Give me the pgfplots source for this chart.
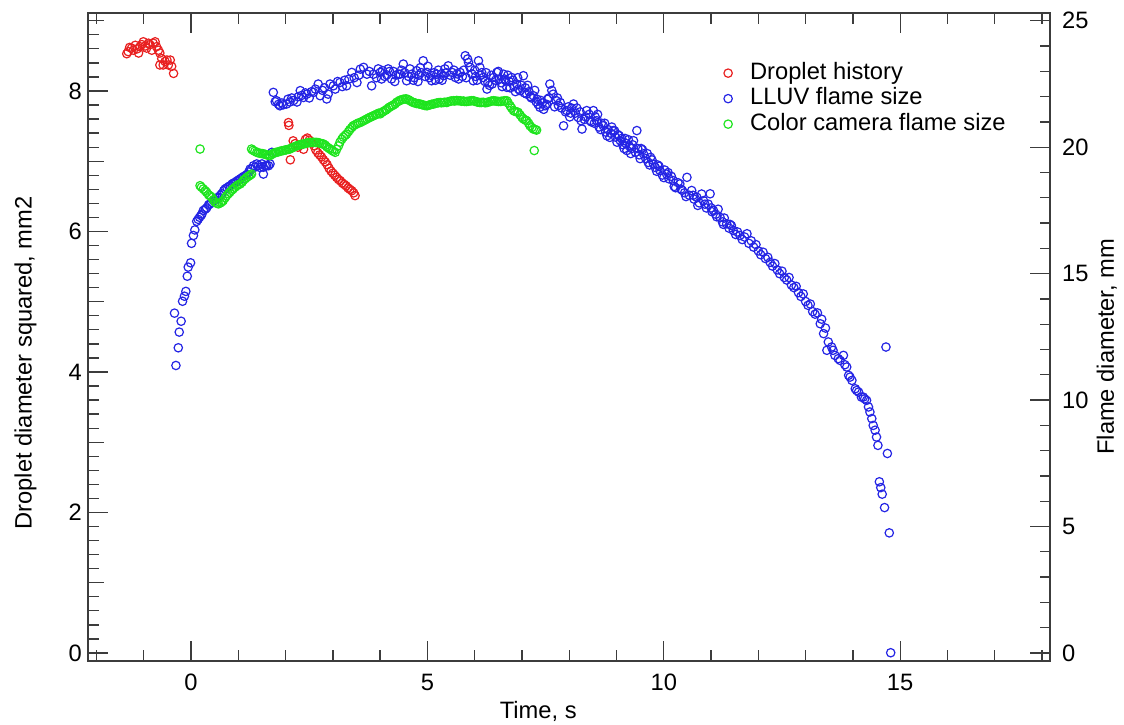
\documentclass[border=0pt]{standalone}
\usepackage{fontspec}
\setmainfont{Liberation Sans}
\usepackage{pgfplots}
\pgfplotsset{compat=1.18}
\definecolor{cred}{RGB}{232,32,32}
\definecolor{cblue}{RGB}{36,36,228}
\definecolor{cgreen}{RGB}{30,228,30}
\definecolor{axgray}{RGB}{60,60,60}
\pgfplotsset{
  dots/.style={only marks, mark=o, mark size=4.2bp, mark options={line width=1.2bp, solid}},
  legdots/.style={only marks, mark=o, mark size=4.2bp, mark options={line width=1.2bp, solid},
    legend image code/.code={\path[draw=none,fill=none] (-5bp,0bp) -- (21bp,0bp); \path[draw=none] plot[mark=o] coordinates {(0bp,0bp)};}},
  common/.style={
    at={(88bp,64bp)}, anchor=south west, scale only axis, width=962bp, height=648bp,
    xmin=-2.18, xmax=18.17,
    tick align=inside,
    axis line style={line width=1.3bp, axgray},
    major tick style={line width=1.3bp, axgray},
    minor tick style={line width=1.3bp, axgray},
    /pgf/number format/assume math mode=true,
  }
}
\begin{document}
\fontsize{23.7bp}{28bp}\selectfont
\begin{tikzpicture}
\path[use as bounding box] (0,0) rectangle (1124bp,725bp);
\begin{axis}[common,
  ymin=-0.114, ymax=9.11,
  xtick={0,5,10,15}, minor xtick={-2,-1,1,2,3,4,6,7,8,9,11,12,13,14,16,17,18},
  ytick={0,2,4,6,8},
  minor ytick={0.2,0.4,0.6,0.8,1.2,1.4,1.6,1.8,2.2,2.4,2.6,2.8,3.2,3.4,3.6,3.8,4.2,4.4,4.6,4.8,5.2,5.4,5.6,5.8,6.2,6.4,6.6,6.8,7.2,7.4,7.6,7.8,8.2,8.4,8.6,8.8,9.0},
  extra y ticks={1,3,5,7,9}, extra y tick labels={},
  extra y tick style={major tick length=16bp},
  xtick pos=both, xticklabel pos=lower, ytick pos=left, yticklabel pos=left,
  major tick length=20bp, minor tick length=11bp,
  x tick label style={anchor=base, yshift=-30bp},
  y tick label style={anchor=east, inner sep=0pt, xshift=-6bp},
  xlabel={Time, s},
  xlabel style={at={(axis description cs:0.468,-0.088)}, anchor=base},
  ylabel={Droplet diameter squared, mm2},
  ylabel style={at={(axis description cs:-0.065,0.46)}, anchor=center},
]
\addplot[dots, cred] table[row sep=\\] {
x y\\
-1.36 8.53\\ -1.33 8.56\\ -1.30 8.62\\ -1.26 8.61\\ -1.22 8.58\\ -1.18 8.65\\ -1.14 8.60\\ -1.11 8.54\\
-1.08 8.63\\ -1.04 8.66\\ -1.01 8.70\\ -0.97 8.64\\ -0.94 8.61\\ -0.90 8.68\\ -0.87 8.66\\ -0.83 8.58\\
-0.80 8.68\\ -0.76 8.70\\ -0.73 8.63\\ -0.69 8.58\\ -0.66 8.54\\ -0.62 8.46\\ -0.66 8.37\\ -0.59 8.37\\
-0.55 8.42\\ -0.51 8.44\\ -0.48 8.37\\ -0.44 8.44\\ -0.41 8.35\\ -0.37 8.25\\
2.06 7.55\\ 2.07 7.51\\ 2.10 7.02\\ 2.16 7.29\\ 2.20 7.25\\ 2.26 7.20\\ 2.32 7.23\\ 2.38 7.17\\
2.42 7.31\\ 2.46 7.33\\ 2.50 7.30\\ 2.55 7.26\\ 2.60 7.22\\ 2.64 7.16\\ 2.68 7.12\\ 2.72 7.09\\
2.76 7.06\\ 2.80 7.02\\ 2.84 6.99\\ 2.88 6.95\\ 2.92 6.90\\ 2.96 6.86\\ 3.00 6.83\\ 3.04 6.80\\
3.08 6.77\\ 3.12 6.74\\ 3.16 6.72\\ 3.20 6.69\\ 3.24 6.67\\ 3.28 6.65\\ 3.32 6.62\\ 3.36 6.60\\
3.40 6.58\\ 3.44 6.55\\ 3.47 6.51\\
};
\end{axis}
\begin{axis}[common,
  ymin=-0.317, ymax=25.31,
  axis x line=none, axis y line*=right,
  ytick={0,5,10,15,20,25}, minor y tick num=4,
  major tick length=20bp, minor tick length=10bp,
  y tick label style={anchor=west, inner sep=0pt, xshift=12bp},
  ylabel={Flame diameter, mm},
  ylabel style={at={(axis description cs:1.059,0.485)}, anchor=center},
  legend style={draw=none, fill=none, at={(axis description cs:0.660,0.926)}, anchor=north west,
    inner sep=0pt, row sep=1.5bp, nodes={inner sep=1bp, text height=17bp, text depth=5bp}},
  legend cell align=left,
]
\addlegendimage{legdots, cred}\addlegendentry{Droplet history}
\addlegendimage{legdots, cblue}\addlegendentry{LLUV flame size}
\addlegendimage{legdots, cgreen}\addlegendentry{Color camera flame size}
\addplot[dots, cblue, forget plot] table[row sep=\\] {
x y\\
-0.35 13.44\\ -0.32 11.37\\ -0.27 12.07\\ -0.25 12.69\\ -0.21 13.12\\ -0.18 13.91\\ -0.14 14.11\\ -0.11 14.30\\
-0.08 14.90\\ -0.06 15.26\\ -0.01 15.43\\ 0.01 16.20\\ 0.05 16.51\\ 0.08 16.73\\ 0.12 17.07\\ 0.15 17.15\\
0.18 17.23\\ 0.21 17.30\\ 0.23 17.36\\ 0.26 17.50\\ 0.30 17.55\\ 0.33 17.60\\ 0.37 17.72\\ 0.40 17.76\\
0.44 17.82\\ 0.47 17.89\\ 0.51 17.92\\ 0.55 18.00\\ 0.58 18.02\\ 0.62 18.10\\ 0.65 18.16\\ 0.69 18.28\\
0.72 18.35\\ 0.76 18.40\\ 0.80 18.45\\ 0.83 18.48\\ 0.87 18.55\\ 0.90 18.58\\ 0.93 18.61\\ 0.97 18.66\\
1.00 18.70\\ 1.04 18.75\\ 1.08 18.80\\ 1.11 18.84\\ 1.15 18.88\\ 1.18 18.92\\ 1.22 19.02\\ 1.25 19.14\\
1.28 19.14\\ 1.32 19.27\\ 1.36 19.22\\ 1.39 19.34\\ 1.43 19.28\\ 1.46 19.20\\ 1.50 19.34\\ 1.53 18.94\\
1.53 19.21\\ 1.57 19.27\\ 1.60 19.27\\ 1.64 19.27\\ 1.67 19.34\\ 1.71 19.80\\
1.74 22.17\\ 1.78 21.80\\ 1.81 21.84\\ 1.85 21.70\\ 1.88 21.64\\ 1.92 21.75\\ 1.95 21.68\\ 2.02 21.71\\
2.05 21.90\\ 2.09 21.79\\ 2.13 21.95\\ 2.17 21.85\\ 2.24 21.79\\ 2.27 22.00\\ 2.31 22.24\\ 2.34 22.05\\
2.38 21.97\\ 2.42 22.15\\ 2.45 22.10\\ 2.50 21.95\\ 2.55 22.20\\ 2.59 22.17\\ 2.63 22.30\\ 2.69 22.50\\
2.73 22.04\\ 2.78 22.25\\ 2.82 22.35\\ 2.87 21.91\\ 2.90 22.10\\ 2.94 22.50\\ 3.01 22.43\\ 3.05 22.30\\
3.10 22.60\\ 3.15 22.56\\ 3.20 22.40\\ 3.25 22.65\\ 3.29 22.43\\ 3.34 22.70\\ 3.40 22.96\\ 3.45 22.75\\
3.51 22.56\\ 3.55 22.85\\ 3.58 23.09\\ 3.65 23.16\\ 3.72 22.89\\ 3.77 23.00\\ 3.82 22.43\\ 3.86 22.89\\
3.92 22.75\\ 3.96 23.10\\ 4.00 22.96\\ 4.05 23.03\\ 4.10 22.80\\ 4.14 22.86\\ 4.20 23.00\\ 4.24 22.70\\
4.28 23.00\\ 4.33 22.85\\ 4.39 22.89\\ 4.42 22.89\\ 4.49 23.29\\ 4.52 22.95\\ 4.56 22.63\\ 4.60 22.80\\
4.67 22.89\\ 4.72 22.75\\ 4.77 23.03\\ 4.82 22.85\\ 4.87 22.95\\ 4.91 23.42\\ 4.95 22.80\\ 4.99 22.96\\
5.04 22.75\\ 5.09 22.63\\ 5.14 22.95\\ 5.20 22.89\\ 5.25 22.70\\ 5.29 22.90\\ 5.34 22.83\\ 5.40 22.95\\
5.44 23.22\\ 5.48 22.85\\ 5.52 22.96\\ 5.59 22.76\\ 5.63 22.90\\ 5.69 22.96\\ 5.74 22.80\\ 5.80 23.62\\
5.85 23.49\\ 5.87 23.35\\ 5.90 23.16\\ 5.97 22.63\\ 6.02 22.80\\ 6.08 23.42\\ 6.11 23.16\\ 6.15 22.95\\
6.18 22.76\\ 6.22 22.60\\ 6.26 22.30\\ 6.31 22.45\\ 6.35 22.85\\ 6.40 22.76\\ 6.47 22.96\\ 6.52 22.70\\
6.56 22.55\\ 6.61 22.89\\ 6.65 22.65\\ 6.68 22.37\\ 6.73 22.60\\ 6.78 22.76\\ 6.83 22.40\\ 6.89 22.50\\
6.93 22.30\\ 6.96 22.24\\ 7.03 22.83\\ 7.07 22.35\\ 7.10 22.10\\ 7.15 22.20\\ 7.20 21.95\\ 7.24 22.04\\
7.30 21.80\\ 7.34 21.70\\ 7.38 21.58\\ 7.43 21.75\\ 7.49 21.64\\ 7.54 21.90\\ 7.59 22.50\\ 7.63 22.25\\
7.66 22.10\\ 7.72 21.85\\ 7.77 21.65\\ 7.81 21.77\\ 7.88 20.85\\ 7.92 21.40\\ 7.95 21.45\\ 8.01 21.20\\
8.05 21.55\\ 8.09 21.71\\ 8.13 21.35\\ 8.19 21.18\\ 8.23 21.40\\ 8.27 20.72\\ 8.32 21.10\\ 8.37 21.45\\
8.42 21.30\\ 8.47 21.00\\ 8.51 21.45\\ 8.55 21.20\\ 8.58 21.05\\ 8.63 20.80\\ 8.68 20.95\\ 8.72 20.85\\
8.77 20.60\\ 8.82 20.70\\ 8.86 20.39\\ 8.90 20.80\\ 8.93 20.66\\ 8.98 20.40\\ 9.03 20.50\\ 9.08 20.26\\
9.13 20.10\\ 9.18 20.35\\ 9.22 19.87\\ 9.27 20.05\\ 9.32 19.95\\ 9.36 20.26\\ 9.40 19.80\\ 9.43 20.66\\
9.48 19.70\\ 9.52 19.95\\ 9.57 19.74\\ 9.62 19.55\\ 9.67 19.40\\ 9.72 19.60\\ 9.78 19.34\\ 9.82 19.20\\
9.87 19.30\\ 9.92 19.08\\ 9.97 18.90\\ 10.02 19.10\\ 10.06 18.94\\ 10.11 18.75\\ 10.16 18.85\\ 10.20 18.68\\
10.25 18.40\\ 10.30 18.60\\ 10.34 18.55\\ 10.39 18.30\\ 10.44 18.20\\ 10.49 18.81\\ 10.54 18.10\\ 10.59 18.29\\
10.64 17.95\\ 10.70 18.02\\ 10.75 17.80\\ 10.80 18.15\\ 10.84 17.89\\ 10.90 17.60\\ 10.94 17.75\\ 10.98 18.16\\
11.02 17.45\\ 11.05 17.50\\ 11.10 17.35\\ 11.15 17.55\\ 11.19 17.23\\ 11.24 17.05\\ 11.28 17.20\\ 11.33 16.97\\
11.38 16.80\\ 11.43 16.90\\ 11.47 16.71\\ 11.52 16.55\\ 11.56 16.65\\ 11.61 16.51\\ 11.66 16.35\\ 11.71 16.45\\
11.76 16.58\\ 11.80 16.20\\ 11.85 16.30\\ 11.90 16.05\\ 11.95 16.15\\ 12.00 15.90\\ 12.05 15.75\\ 12.10 15.85\\
12.15 15.60\\ 12.20 15.65\\ 12.25 15.45\\ 12.30 15.30\\ 12.35 15.40\\ 12.40 15.15\\ 12.45 15.00\\ 12.50 15.10\\
12.55 14.85\\ 12.60 14.75\\ 12.65 14.85\\ 12.70 14.55\\ 12.75 14.45\\ 12.80 14.50\\ 12.85 14.25\\ 12.90 14.10\\
12.95 14.20\\ 13.00 13.90\\ 13.05 13.75\\ 13.10 13.80\\ 13.15 13.50\\ 13.20 13.40\\ 13.25 13.45\\ 13.31 13.02\\
13.34 13.20\\ 13.38 12.63\\ 13.42 12.85\\ 13.45 11.97\\ 13.48 12.30\\ 13.55 12.10\\ 13.58 11.97\\ 13.62 11.77\\
13.69 11.64\\ 13.73 11.57\\ 13.80 11.77\\ 13.83 11.40\\ 13.87 11.31\\ 13.91 10.98\\ 13.94 10.91\\ 13.98 10.78\\
14.05 10.45\\ 14.08 10.38\\ 14.12 10.32\\ 14.18 10.12\\ 14.22 10.12\\ 14.25 10.05\\ 14.29 9.99\\ 14.33 9.73\\
14.36 9.53\\ 14.40 9.27\\ 14.43 9.00\\ 14.47 8.81\\ 14.50 8.54\\ 14.53 8.21\\ 14.56 6.77\\ 14.59 6.54\\
14.62 6.28\\ 14.67 5.75\\ 14.70 12.10\\ 14.73 7.89\\ 14.77 4.75\\ 14.80 0.01\\
4.03 22.70\\ 4.17 23.10\\ 4.31 22.60\\ 4.45 23.05\\ 4.63 23.10\\ 4.70 22.65\\ 4.80 22.60\\ 4.85 23.15\\
5.01 23.20\\ 5.07 22.85\\ 5.17 22.65\\ 5.23 23.05\\ 5.31 22.65\\ 5.37 23.10\\ 5.56 23.05\\ 5.66 22.70\\
5.77 23.05\\ 5.82 22.75\\ 5.94 22.90\\ 6.00 23.05\\ 6.05 22.65\\ 6.13 22.85\\ 6.24 22.95\\ 6.28 22.55\\
6.37 22.50\\ 6.44 22.65\\ 6.50 23.00\\ 6.58 22.40\\ 6.63 22.70\\ 6.70 22.85\\ 6.75 22.35\\ 6.81 22.65\\
6.86 22.20\\ 6.91 22.75\\ 6.99 22.45\\ 7.05 22.15\\ 7.12 22.45\\ 7.18 22.00\\ 7.27 22.25\\ 7.32 21.90\\
7.40 21.85\\ 7.46 21.50\\ 7.52 21.70\\ 7.57 21.95\\ 7.69 21.60\\ 7.75 21.95\\ 7.84 21.55\\ 7.98 21.60\\
8.03 21.35\\ 8.16 21.55\\ 8.25 21.05\\ 8.35 21.20\\ 8.44 21.05\\ 8.53 20.95\\ 8.60 21.30\\ 8.66 20.70\\
8.75 20.95\\ 8.80 20.45\\ 8.88 20.55\\ 8.96 20.65\\ 9.01 20.20\\ 9.06 20.45\\ 9.11 20.35\\ 9.16 19.95\\
9.20 20.15\\ 9.25 20.30\\ 9.30 19.75\\ 9.34 20.10\\ 9.45 19.95\\ 9.50 19.55\\ 9.55 19.90\\ 9.65 19.75\\
9.70 19.30\\ 9.75 19.50\\ 9.85 19.05\\ 9.90 19.25\\ 10.00 18.80\\ 10.09 19.00\\ 10.22 18.45\\ 10.36 18.35\\
10.47 18.05\\ 10.62 18.10\\ 10.72 17.70\\ 10.87 17.75\\ 11.00 17.60\\ 11.12 17.25\\ 11.26 16.95\\ 11.40 16.95\\
};
\addplot[dots, cgreen, forget plot] table[row sep=\\] {
x y\\
0.19 19.93\\
0.19 18.48\\ 0.22 18.42\\ 0.26 18.35\\ 0.30 18.28\\ 0.33 18.22\\ 0.37 18.12\\ 0.40 18.08\\ 0.44 18.02\\
0.47 17.92\\ 0.51 17.82\\ 0.55 17.78\\ 0.58 17.76\\ 0.62 17.80\\ 0.65 17.84\\ 0.68 17.89\\ 0.72 18.00\\
0.75 18.08\\ 0.79 18.16\\ 0.82 18.22\\ 0.86 18.30\\ 0.89 18.35\\ 0.93 18.42\\ 0.97 18.48\\ 1.00 18.52\\
1.04 18.55\\ 1.08 18.62\\ 1.11 18.70\\ 1.15 18.76\\ 1.18 18.81\\ 1.22 18.86\\ 1.25 18.90\\ 1.28 18.94\\
1.28 19.93\\ 1.31 19.88\\ 1.35 19.84\\ 1.39 19.80\\ 1.42 19.78\\ 1.46 19.76\\ 1.50 19.75\\ 1.53 19.74\\
1.57 19.72\\ 1.60 19.70\\ 1.64 19.68\\ 1.67 19.67\\ 1.71 19.72\\ 1.74 19.76\\ 1.78 19.79\\ 1.81 19.80\\
1.85 19.82\\ 1.88 19.84\\ 1.92 19.86\\ 1.95 19.87\\ 1.99 19.89\\ 2.02 19.90\\ 2.06 19.92\\ 2.09 19.93\\
2.13 19.97\\ 2.16 20.00\\ 2.20 20.03\\ 2.24 20.06\\ 2.27 20.08\\ 2.31 20.10\\ 2.34 20.12\\ 2.38 20.13\\
2.42 20.15\\ 2.45 20.17\\ 2.49 20.18\\ 2.52 20.19\\ 2.56 20.19\\ 2.59 20.20\\ 2.63 20.19\\ 2.66 20.19\\
2.70 20.18\\ 2.73 20.16\\ 2.77 20.14\\ 2.80 20.13\\ 2.84 20.08\\ 2.87 20.02\\ 2.91 19.97\\ 2.94 19.93\\
2.98 19.88\\ 3.01 19.84\\ 3.05 19.80\\ 3.08 19.92\\ 3.12 20.06\\ 3.15 20.20\\ 3.19 20.32\\ 3.22 20.40\\
3.26 20.47\\ 3.29 20.52\\ 3.33 20.62\\ 3.36 20.70\\ 3.40 20.78\\ 3.43 20.85\\ 3.47 20.89\\ 3.51 20.93\\
3.54 20.96\\ 3.58 20.98\\ 3.62 21.02\\ 3.65 21.05\\ 3.69 21.09\\ 3.72 21.12\\ 3.76 21.16\\ 3.79 21.19\\
3.83 21.22\\ 3.86 21.25\\ 3.90 21.28\\ 3.93 21.31\\ 3.97 21.35\\ 4.00 21.32\\ 4.04 21.38\\ 4.07 21.42\\
4.11 21.46\\ 4.14 21.50\\ 4.18 21.56\\ 4.21 21.60\\ 4.25 21.64\\ 4.28 21.67\\ 4.32 21.72\\ 4.35 21.78\\
4.39 21.82\\ 4.42 21.86\\ 4.46 21.88\\ 4.49 21.90\\ 4.53 21.91\\ 4.56 21.91\\ 4.60 21.88\\ 4.63 21.84\\
4.67 21.80\\ 4.70 21.77\\ 4.74 21.75\\ 4.77 21.73\\ 4.81 21.72\\ 4.84 21.71\\ 4.88 21.69\\ 4.91 21.67\\
4.95 21.65\\ 4.99 21.64\\ 5.02 21.66\\ 5.06 21.68\\ 5.09 21.70\\ 5.13 21.71\\ 5.16 21.73\\ 5.20 21.75\\
5.23 21.76\\ 5.27 21.77\\ 5.30 21.76\\ 5.34 21.77\\ 5.37 21.78\\ 5.41 21.77\\ 5.44 21.80\\ 5.48 21.82\\
5.51 21.83\\ 5.55 21.84\\ 5.58 21.83\\ 5.62 21.85\\ 5.65 21.84\\ 5.69 21.84\\ 5.72 21.82\\ 5.76 21.83\\
5.79 21.81\\ 5.83 21.81\\ 5.86 21.82\\ 5.90 21.83\\ 5.93 21.84\\ 5.97 21.84\\ 6.00 21.82\\ 6.04 21.80\\
6.07 21.78\\ 6.11 21.77\\ 6.14 21.77\\ 6.18 21.78\\ 6.22 21.76\\ 6.26 21.77\\ 6.29 21.79\\ 6.33 21.81\\
6.36 21.83\\ 6.40 21.84\\ 6.43 21.83\\ 6.47 21.82\\ 6.50 21.81\\ 6.54 21.81\\ 6.57 21.82\\ 6.61 21.83\\
6.64 21.84\\ 6.68 21.84\\ 6.71 21.75\\ 6.75 21.64\\ 6.78 21.55\\ 6.82 21.45\\ 6.85 21.42\\ 6.89 21.40\\
6.92 21.38\\ 6.96 21.28\\ 7.00 21.18\\ 7.03 21.12\\ 7.07 21.08\\ 7.10 21.05\\ 7.14 20.95\\ 7.17 20.85\\
7.21 20.78\\ 7.24 20.72\\ 7.28 20.70\\ 7.31 20.68\\ 7.26 19.87\\
};
\end{axis}
\end{tikzpicture}
\end{document}
